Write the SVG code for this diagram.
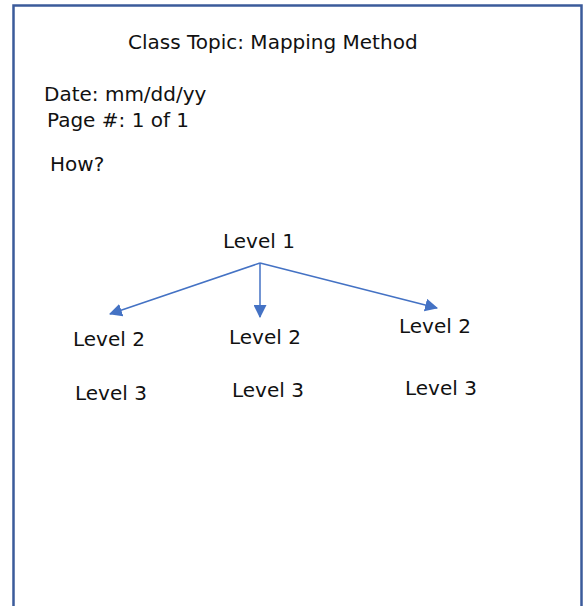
<svg xmlns="http://www.w3.org/2000/svg" width="587" height="606" viewBox="0 0 587 606">
<style>
text{font-family:"DejaVu Sans",Verdana,sans-serif;font-size:20px;fill:#111}
.conn{stroke:#4472C4;stroke-width:1.5;fill:none}
</style>
<defs>
<marker id="ah" viewBox="0 0 12 12" refX="11" refY="6" markerWidth="13" markerHeight="13" markerUnits="userSpaceOnUse" orient="auto">
<path d="M0,0 L12,6 L0,12 Z" fill="#4472C4"/>
</marker>
</defs>
<rect x="0" y="0" width="587" height="606" fill="#fff"/>
<rect x="13.5" y="5.5" width="568" height="640" fill="none" stroke="#3B5B9B" stroke-width="2.5"/>
<g id="title"><text x="128" y="49">Class Topic: Mapping Method</text></g>
<g id="date"><text x="44" y="101">Date: mm/dd/yy</text></g>
<g id="page"><text x="47" y="127">Page #: 1 of 1</text></g>
<g id="how"><text x="50" y="171">How?</text></g>
<g id="level1"><text x="223" y="248">Level 1</text></g>
<g id="level2a"><text x="73" y="346">Level 2</text></g>
<g id="level2b"><text x="229" y="344">Level 2</text></g>
<g id="level2c"><text x="399" y="333">Level 2</text></g>
<g id="level3a"><text x="75" y="400">Level 3</text></g>
<g id="level3b"><text x="232" y="397">Level 3</text></g>
<g id="level3c"><text x="405" y="395">Level 3</text></g>
<g id="connectors">
<line class="conn" x1="260" y1="263" x2="110" y2="314" marker-end="url(#ah)"/>
<line class="conn" x1="260" y1="263" x2="260" y2="317" marker-end="url(#ah)"/>
<line class="conn" x1="260" y1="263" x2="437" y2="308" marker-end="url(#ah)"/>
</g>
</svg>
